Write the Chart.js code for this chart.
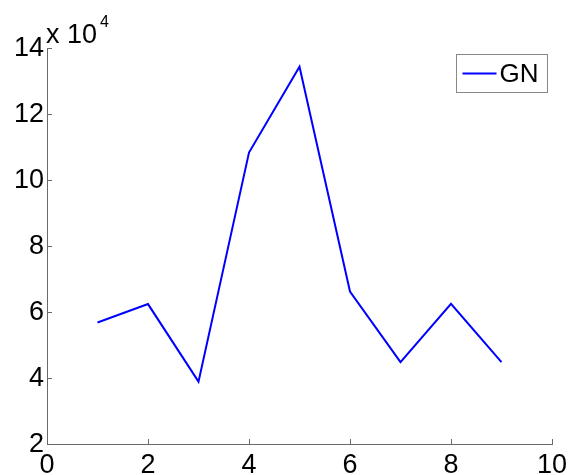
<!DOCTYPE html>
<html>
<head>
<meta charset="utf-8">
<script src="https://cdn.jsdelivr.net/npm/chart.js@4/dist/chart.umd.min.js"></script>
<style>
  html, body { margin: 0; padding: 0; background: #fff; }
  #wrap { width: 568px; height: 475px; position: relative; }
</style>
</head>
<body>
<div id="wrap"><canvas id="c" width="568" height="475"></canvas></div>
<script>
// GN series, sampled at x = 1..9
const xValues = [1, 2, 3, 4, 5, 6, 7, 8, 9];
const gnValues = [56800, 62400, 38900, 108300, 134300, 66200, 44800, 62500, 44800];
const seriesLabel = 'GN';
const yExponent = 4;
const xTicks = [0, 2, 4, 6, 8, 10];
const yTicks = [2, 4, 6, 8, 10, 12, 14];

const FONT = 'Arial, "Liberation Sans", sans-serif';
const AXIS_COLOR = '#6a6a6a';
const scaleFactor = Math.pow(10, yExponent);

// Inward tick marks, exponent label and legend box
const decorations = {
  id: 'decorations',
  afterDraw(chart) {
    const ctx = chart.ctx;
    const area = chart.chartArea;
    const xs = chart.scales.x, ys = chart.scales.y;
    ctx.save();
    ctx.strokeStyle = AXIS_COLOR;
    ctx.lineWidth = 1;
    ctx.beginPath();
    xTicks.forEach(v => {
      const px = Math.round(xs.getPixelForValue(v)) + 0.5;
      ctx.moveTo(px, area.bottom);
      ctx.lineTo(px, area.bottom - 5);
    });
    yTicks.forEach(v => {
      const py = Math.round(ys.getPixelForValue(v * scaleFactor)) + 0.5;
      ctx.moveTo(area.left, py);
      ctx.lineTo(area.left + 5, py);
    });
    ctx.stroke();

    // exponent label above the y axis
    ctx.fillStyle = '#000';
    ctx.textBaseline = 'alphabetic';
    ctx.textAlign = 'left';
    ctx.font = '27px ' + FONT;
    const base = 'x 10';
    ctx.fillText(base, area.left - 1, area.top - 5);
    const w = ctx.measureText(base).width;
    ctx.font = '16px ' + FONT;
    ctx.fillText(String(yExponent), area.left - 1 + w + 3, area.top - 21);

    // legend
    const ds = chart.data.datasets[0];
    const bx = 456.5, by = 54.5, bw = 91, bh = 38;
    ctx.fillStyle = '#fff';
    ctx.fillRect(bx, by, bw, bh);
    ctx.strokeStyle = '#888';
    ctx.lineWidth = 1;
    ctx.strokeRect(bx, by, bw, bh);
    ctx.strokeStyle = ds.borderColor;
    ctx.lineWidth = 2;
    ctx.beginPath();
    ctx.moveTo(bx + 6, by + 19);
    ctx.lineTo(bx + 40, by + 19);
    ctx.stroke();
    ctx.fillStyle = '#000';
    ctx.font = '26px ' + FONT;
    ctx.textBaseline = 'alphabetic';
    ctx.fillText(ds.label, bx + 43, by + 27.5);
    ctx.restore();
  }
};

new Chart(document.getElementById('c'), {
  type: 'line',
  data: {
    datasets: [{
      label: seriesLabel,
      data: xValues.map((x, i) => ({ x: x, y: gnValues[i] })),
      borderColor: '#0000ff',
      borderWidth: 2,
      pointRadius: 0,
      tension: 0,
      fill: false
    }]
  },
  options: {
    responsive: false,
    animation: false,
    events: [],
    layout: { padding: { top: 48, right: 16, left: 0, bottom: 0 } },
    plugins: { legend: { display: false }, tooltip: { enabled: false } },
    scales: {
      x: {
        type: 'linear',
        min: 0, max: 10,
        afterBuildTicks(scale) { scale.ticks = xTicks.map(v => ({ value: v })); },
        afterFit(scale) {
          scale.height = 31;
          scale.paddingLeft = 0;
          scale.paddingRight = 0;
        },
        grid: { display: false, drawTicks: false },
        border: { display: true, color: AXIS_COLOR, width: 1 },
        ticks: {
          color: '#000', padding: 5, maxRotation: 0, autoSkip: false,
          font: { family: FONT, size: 27 },
          callback: v => String(v)
        }
      },
      y: {
        type: 'linear',
        min: 2 * scaleFactor, max: 14 * scaleFactor,
        afterBuildTicks(scale) { scale.ticks = yTicks.map(v => ({ value: v * scaleFactor })); },
        afterFit(scale) {
          scale.width = 47;
          scale.paddingTop = 0;
          scale.paddingBottom = 0;
        },
        grid: { display: false, drawTicks: false },
        border: { display: true, color: AXIS_COLOR, width: 1 },
        ticks: {
          color: '#000', padding: 3, autoSkip: false, labelOffset: 1,
          font: { family: FONT, size: 27 },
          callback: v => String(Math.round(v / scaleFactor))
        }
      }
    }
  },
  plugins: [decorations]
});
</script>
</body>
</html>
